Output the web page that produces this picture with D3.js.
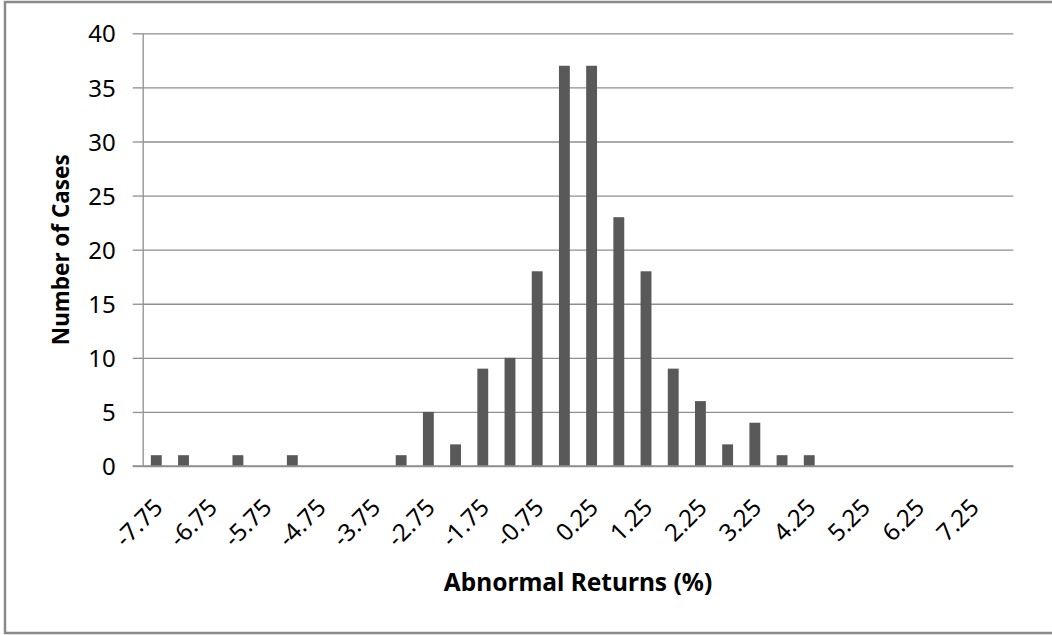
<!DOCTYPE html>
<html>
<head>
<meta charset="utf-8">
<script src="https://cdn.jsdelivr.net/npm/d3@7/dist/d3.min.js"></script>
<style>
  html, body { margin: 0; padding: 0; background: #fff; }
  text { font-family: "Noto Sans", sans-serif; fill: #000; }
</style>
</head>
<body>
<div id="histChart"></div>
<script>
// abnormal return buckets (%), step 0.5
const categories = [-7.75, -7.25, -6.75, -6.25, -5.75, -5.25, -4.75, -4.25,
                    -3.75, -3.25, -2.75, -2.25, -1.75, -1.25, -0.75, -0.25,
                     0.25,  0.75,  1.25,  1.75,  2.25,  2.75,  3.25,  3.75,
                     4.25,  4.75,  5.25,  5.75,  6.25,  6.75,  7.25,  7.75];
const cases = [1, 1, 0, 1, 0, 1, 0, 0,
               0, 1, 5, 2, 9, 10, 18, 37,
               37, 23, 18, 9, 6, 2, 4, 1,
               1, 0, 0, 0, 0, 0, 0, 0];
const yTicks = [0, 5, 10, 15, 20, 25, 30, 35, 40];
const xLabels = ['-7.75', '-6.75', '-5.75', '-4.75', '-3.75', '-2.75', '-1.75', '-0.75',
                 '0.25', '1.25', '2.25', '3.25', '4.25', '5.25', '6.25', '7.25'];

const AREA_WIDTH = 1052;
const AREA_HEIGHT = 635;
const MARGIN = { TOP: 33.3, RIGHT: 38.7, BOTTOM: 169, LEFT: 142.7 };
const WIDTH = AREA_WIDTH - MARGIN.LEFT - MARGIN.RIGHT;
const HEIGHT = AREA_HEIGHT - MARGIN.TOP - MARGIN.BOTTOM;

const root = d3.select('#histChart')
               .append('svg')
               .attr('width', AREA_WIDTH)
               .attr('height', AREA_HEIGHT);

// chart border
root.append('rect')
      .attr('x', 5).attr('y', 2)
      .attr('width', AREA_WIDTH + 10).attr('height', AREA_HEIGHT - 4)
      .attr('fill', 'none')
      .attr('stroke', '#8a8a8a')
      .attr('stroke-width', 2.5);

const svg = root.append('g')
                .attr('transform', `translate(${MARGIN.LEFT},${MARGIN.TOP})`);

const x = d3.scaleBand()
              .domain(categories.map(String))
              .range([0, WIDTH])
              .paddingInner(0.6)
              .paddingOuter(0.3);

const y = d3.scaleLinear()
              .domain([0, 40])
              .range([HEIGHT, 0]);

// gridlines
svg.append('g')
     .attr('class', 'grid')
     .call(d3.axisLeft(y).tickValues(yTicks).tickSize(-WIDTH).tickFormat(''))
     .call(g => g.select('.domain').remove())
     .call(g => g.selectAll('line').attr('stroke', '#8f8f8f').attr('stroke-width', 1.3));

// y axis with outside ticks
svg.append('g')
     .call(d3.axisLeft(y).tickValues(yTicks).tickSize(10).tickSizeOuter(0).tickPadding(17))
     .call(g => g.select('.domain').attr('stroke', '#8f8f8f').attr('stroke-width', 1.3))
     .call(g => g.selectAll('line').attr('stroke', '#8f8f8f').attr('stroke-width', 1.3))
     .call(g => g.selectAll('text').style('font-size', '24px').attr('dy', '0.36em'));

// bars
svg.selectAll('rect.bar')
     .data(categories.map((c, i) => ({ cat: String(c), value: cases[i] })))
     .enter()
     .append('rect')
     .attr('class', 'bar')
     .attr('x', d => x(d.cat))
     .attr('y', d => y(d.value))
     .attr('width', x.bandwidth())
     .attr('height', d => HEIGHT - y(d.value))
     .attr('fill', '#595959');

// x axis
const xAxis = svg.append('g')
                   .attr('transform', `translate(0, ${HEIGHT})`)
                   .call(d3.axisBottom(x).tickSize(0).tickValues(xLabels.map(s => String(+s))).tickFormat(d => xLabels.find(s => +s === +d)));
xAxis.select('.domain')
       .attr('d', `M-10,0H${WIDTH}`)
       .attr('stroke', '#8f8f8f')
       .attr('stroke-width', 1.3);
xAxis.selectAll('text')
       .style('font-size', '24px')
       .style('text-anchor', 'end')
       .attr('dy', 0)
       .attr('y', 0)
       .attr('transform', 'translate(8, 43) rotate(-45)');

// axis titles
svg.append('text')
     .attr('transform', `translate(${WIDTH / 2}, ${HEIGHT + 125})`)
     .style('text-anchor', 'middle')
     .style('font-size', '24.5px')
     .style('font-weight', 'bold')
     .text('Abnormal Returns (%)');

svg.append('text')
     .attr('transform', 'rotate(-90)')
     .attr('y', -MARGIN.LEFT + 69)
     .attr('x', 0 - HEIGHT / 2)
     .style('text-anchor', 'middle')
     .style('font-size', '22.5px')
     .style('font-weight', 'bold')
     .text('Number of Cases');
</script>
</body>
</html>
